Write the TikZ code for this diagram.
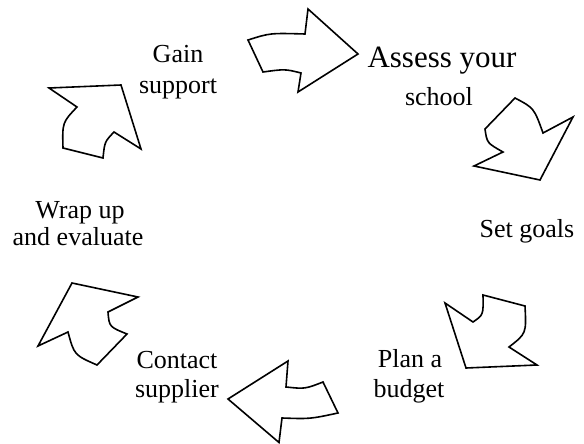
\documentclass[tikz,border=0pt]{standalone}
\usepackage{fontspec}
\setmainfont{Liberation Serif}
\begin{document}
\begin{tikzpicture}[x=1pt,y=-1pt,
  arrowshape/.style={draw=black,line width=1.6pt,line join=miter,fill=white},
  lbl/.style={inner sep=0pt,anchor=base,font=\fontsize{26}{30}\selectfont},
  biglbl/.style={inner sep=0pt,anchor=base,font=\fontsize{31}{36}\selectfont}]
\useasboundingbox (0,0) rectangle (584,444);
% arrow 1 (top, pointing right)
\draw[arrowshape] (248,40) .. controls (270,33) .. (305,34) -- (308,9) -- (358,54) -- (298,92) -- (301,73) .. controls (285,69) .. (263,72) -- cycle;
% arrow 2 (upper right)
\draw[arrowshape] (515,98) .. controls (534,108) .. (543,133) -- (573,117) -- (540,180) -- (474,166) -- (503,152) .. controls (487,143) .. (485,129) -- cycle;
% arrow 3 (lower right)
\draw[arrowshape] (445,303) -- (473,322) .. controls (483.4,314.9) .. (483,295) -- (525,306) .. controls (526.4,333.5) .. (509,347) -- (537,365) -- (466,368) -- cycle;
% arrow 4 (bottom, pointing left)
\draw[arrowshape] (288,361) -- (286,387) .. controls (305,389) .. (323,382) -- (338,413) .. controls (310,419) .. (282,418) -- (279,442.5) -- (228,399) -- cycle;
% arrow 5 (lower left)
\draw[arrowshape] (72,283) -- (138,297) -- (108,312) .. controls (109.2,326.8) .. (127,334) -- (97,365) .. controls (74.2,355) .. (68,332) -- (38,346) -- cycle;
% arrow 6 (upper left)
\draw[arrowshape] (49,88) -- (121,85) -- (141,149) -- (114,132) .. controls (104.7,141.7) .. (103,158) -- (63,148) .. controls (62.3,122.5) .. (77,107) -- cycle;
% labels
\node[lbl] (gain1) at (178,62.5) {Gain};
\node[lbl] (gain2) at (178,93) {support};
\node[biglbl] (assess1) at (442,67) {Assess your};
\node[lbl] (assess2) at (439,106) {school};
\node[lbl] (goals) at (527,237) {Set goals};
\node[lbl] (plan1) at (410,367) {Plan a};
\node[lbl] (plan2) at (409,397) {budget};
\node[lbl] (contact1) at (177,368) {Contact};
\node[lbl] (contact2) at (177,397) {supplier};
\node[lbl] (wrap1) at (80,218) {Wrap up};
\node[lbl] (wrap2) at (78,245) {and evaluate};
\end{tikzpicture}
\end{document}
